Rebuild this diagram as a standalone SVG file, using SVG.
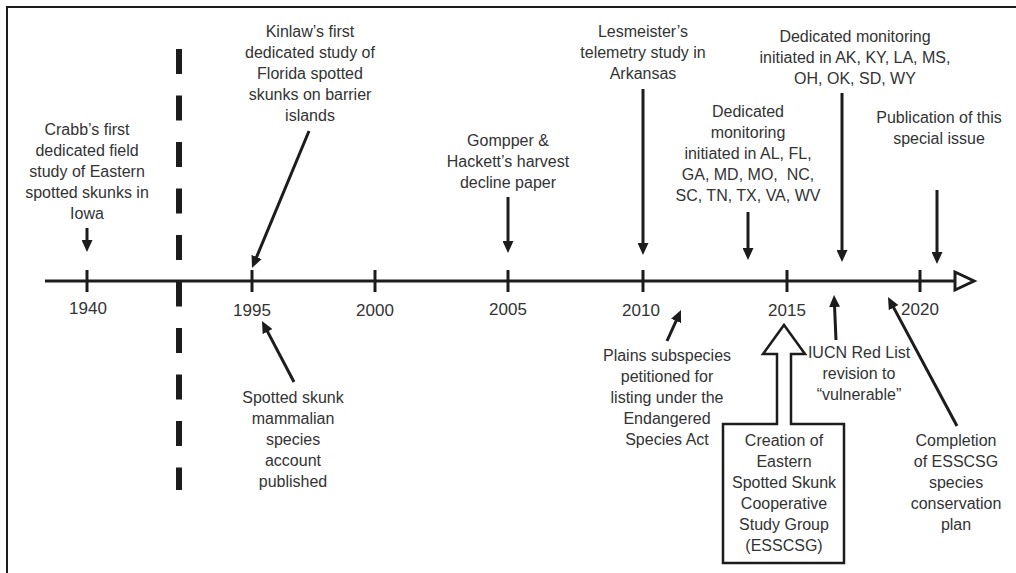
<svg xmlns="http://www.w3.org/2000/svg" width="1016" height="573" viewBox="0 0 1016 573">
<style>
  .lbl { font-family: "Liberation Sans", Arial, sans-serif; font-size: 16px; fill: #333; text-anchor: middle; }
  .yr { font-family: "Liberation Sans", Arial, sans-serif; font-size: 17px; fill: #333; text-anchor: middle; }
  .ln { stroke: #1c1c1c; stroke-width: 3; fill: none; }
  .arr { stroke: #1c1c1c; stroke-width: 3; fill: none; marker-end: url(#ah); }
</style>
<defs>
  <marker id="ah" markerUnits="userSpaceOnUse" viewBox="0 0 12 11" markerWidth="12" markerHeight="11" refX="4" refY="5.5" orient="auto">
    <path d="M0,0 L12,5.5 L0,11 Z" fill="#1c1c1c"/>
  </marker>
</defs>
<rect width="1016" height="573" fill="#fff"/>
<g id="frame">
  <path d="M7,573 L7,7 L1016,7" stroke="#1c1c1c" stroke-width="2" fill="none"/>
</g>
<g id="axis">
  <line class="ln" x1="45" y1="281" x2="955" y2="281"/>
  <polygon points="955,272 974,281 955,290" fill="#fff" stroke="#1c1c1c" stroke-width="3"/>
  <line x1="179" y1="49" x2="179" y2="490" stroke="#1c1c1c" stroke-width="6" stroke-dasharray="25 21.5"/>
  <g class="ticks">
    <line class="ln" x1="87" y1="270" x2="87" y2="292"/>
    <line class="ln" x1="252" y1="270" x2="252" y2="292"/>
    <line class="ln" x1="375" y1="270" x2="375" y2="292"/>
    <line class="ln" x1="508" y1="270" x2="508" y2="292"/>
    <line class="ln" x1="643" y1="270" x2="643" y2="292"/>
    <line class="ln" x1="787" y1="270" x2="787" y2="292"/>
    <line class="ln" x1="920" y1="270" x2="920" y2="292"/>
  </g>
  <text class="yr" x="88" y="314">1940</text>
  <text class="yr" x="252" y="316">1995</text>
  <text class="yr" x="375" y="316">2000</text>
  <text class="yr" x="508" y="315">2005</text>
  <text class="yr" x="641" y="316">2010</text>
  <text class="yr" x="787" y="316">2015</text>
  <text class="yr" x="920" y="315">2020</text>
</g>
<g id="connectors">
  <line class="arr" x1="87" y1="228" x2="87" y2="244"/>
  <line class="arr" x1="309" y1="131" x2="255.1" y2="260.6"/>
  <line class="arr" x1="508" y1="197" x2="508" y2="245"/>
  <line class="arr" x1="643" y1="89" x2="643" y2="247"/>
  <line class="arr" x1="842" y1="93" x2="842" y2="254"/>
  <line class="arr" x1="748" y1="212" x2="748" y2="252"/>
  <line class="arr" x1="937" y1="190" x2="937" y2="256"/>
  <line class="arr" x1="294" y1="382" x2="265.7" y2="328.1"/>
  <line class="arr" x1="667" y1="341" x2="677.7" y2="317.3"/>
  <line class="arr" x1="836" y1="340" x2="834.4" y2="303"/>
  <line class="arr" x1="957" y1="426" x2="891.8" y2="304.1"/>
</g>
<g id="crabb">
  <text class="lbl" x="87" y="135">Crabb’s first</text>
  <text class="lbl" x="87" y="156">dedicated field</text>
  <text class="lbl" x="87" y="177">study of Eastern</text>
  <text class="lbl" x="87" y="198">spotted skunks in</text>
  <text class="lbl" x="87" y="219">Iowa</text>
</g>
<g id="kinlaw">
  <text class="lbl" x="310" y="37">Kinlaw’s first</text>
  <text class="lbl" x="310" y="58">dedicated study of</text>
  <text class="lbl" x="310" y="79">Florida spotted</text>
  <text class="lbl" x="310" y="100">skunks on barrier</text>
  <text class="lbl" x="310" y="121">islands</text>
</g>
<g id="gompper">
  <text class="lbl" x="508" y="146">Gompper &amp;</text>
  <text class="lbl" x="508" y="167">Hackett’s harvest</text>
  <text class="lbl" x="508" y="188">decline paper</text>
</g>
<g id="lesmeister">
  <text class="lbl" x="643" y="37">Lesmeister’s</text>
  <text class="lbl" x="643" y="58">telemetry study in</text>
  <text class="lbl" x="643" y="79">Arkansas</text>
</g>
<g id="monitoring-ak">
  <text class="lbl" x="855" y="42">Dedicated monitoring</text>
  <text class="lbl" x="855" y="63">initiated in AK, KY, LA, MS,</text>
  <text class="lbl" x="855" y="84">OH, OK, SD, WY</text>
</g>
<g id="monitoring-al">
  <text class="lbl" x="748" y="117">Dedicated</text>
  <text class="lbl" x="748" y="138">monitoring</text>
  <text class="lbl" x="748" y="159">initiated in AL, FL,</text>
  <text class="lbl" x="748" y="180" xml:space="preserve">GA, MD, MO,  NC,</text>
  <text class="lbl" x="748" y="201">SC, TN, TX, VA, WV</text>
</g>
<g id="publication">
  <text class="lbl" x="939" y="123">Publication of this</text>
  <text class="lbl" x="939" y="144">special issue</text>
</g>
<g id="spotted">
  <text class="lbl" x="293" y="403">Spotted skunk</text>
  <text class="lbl" x="293" y="424">mammalian</text>
  <text class="lbl" x="293" y="445">species</text>
  <text class="lbl" x="293" y="466">account</text>
  <text class="lbl" x="293" y="487">published</text>
</g>
<g id="plains">
  <text class="lbl" x="667" y="361">Plains subspecies</text>
  <text class="lbl" x="667" y="382">petitioned for</text>
  <text class="lbl" x="667" y="403">listing under the</text>
  <text class="lbl" x="667" y="424">Endangered</text>
  <text class="lbl" x="667" y="445">Species Act</text>
</g>
<g id="esscsg">
  <path d="M723,424 L777,424 L777,354 L763,354 L784,325 L805,354 L791,354 L791,424 L844,424 L844,563 L723,563 Z" fill="#fff" stroke="#1c1c1c" stroke-width="2.5"/>
  <text class="lbl" x="784" y="446">Creation of</text>
  <text class="lbl" x="784" y="467">Eastern</text>
  <text class="lbl" x="784" y="488">Spotted Skunk</text>
  <text class="lbl" x="784" y="509">Cooperative</text>
  <text class="lbl" x="784" y="530">Study Group</text>
  <text class="lbl" x="784" y="551">(ESSCSG)</text>
</g>
<g id="iucn">
  <text class="lbl" x="859" y="358">IUCN Red List</text>
  <text class="lbl" x="859" y="379">revision to</text>
  <text class="lbl" x="859" y="400">“vulnerable”</text>
</g>
<g id="completion">
  <text class="lbl" x="956" y="446">Completion</text>
  <text class="lbl" x="956" y="467">of ESSCSG</text>
  <text class="lbl" x="956" y="488">species</text>
  <text class="lbl" x="956" y="509">conservation</text>
  <text class="lbl" x="956" y="530">plan</text>
</g>
</svg>
